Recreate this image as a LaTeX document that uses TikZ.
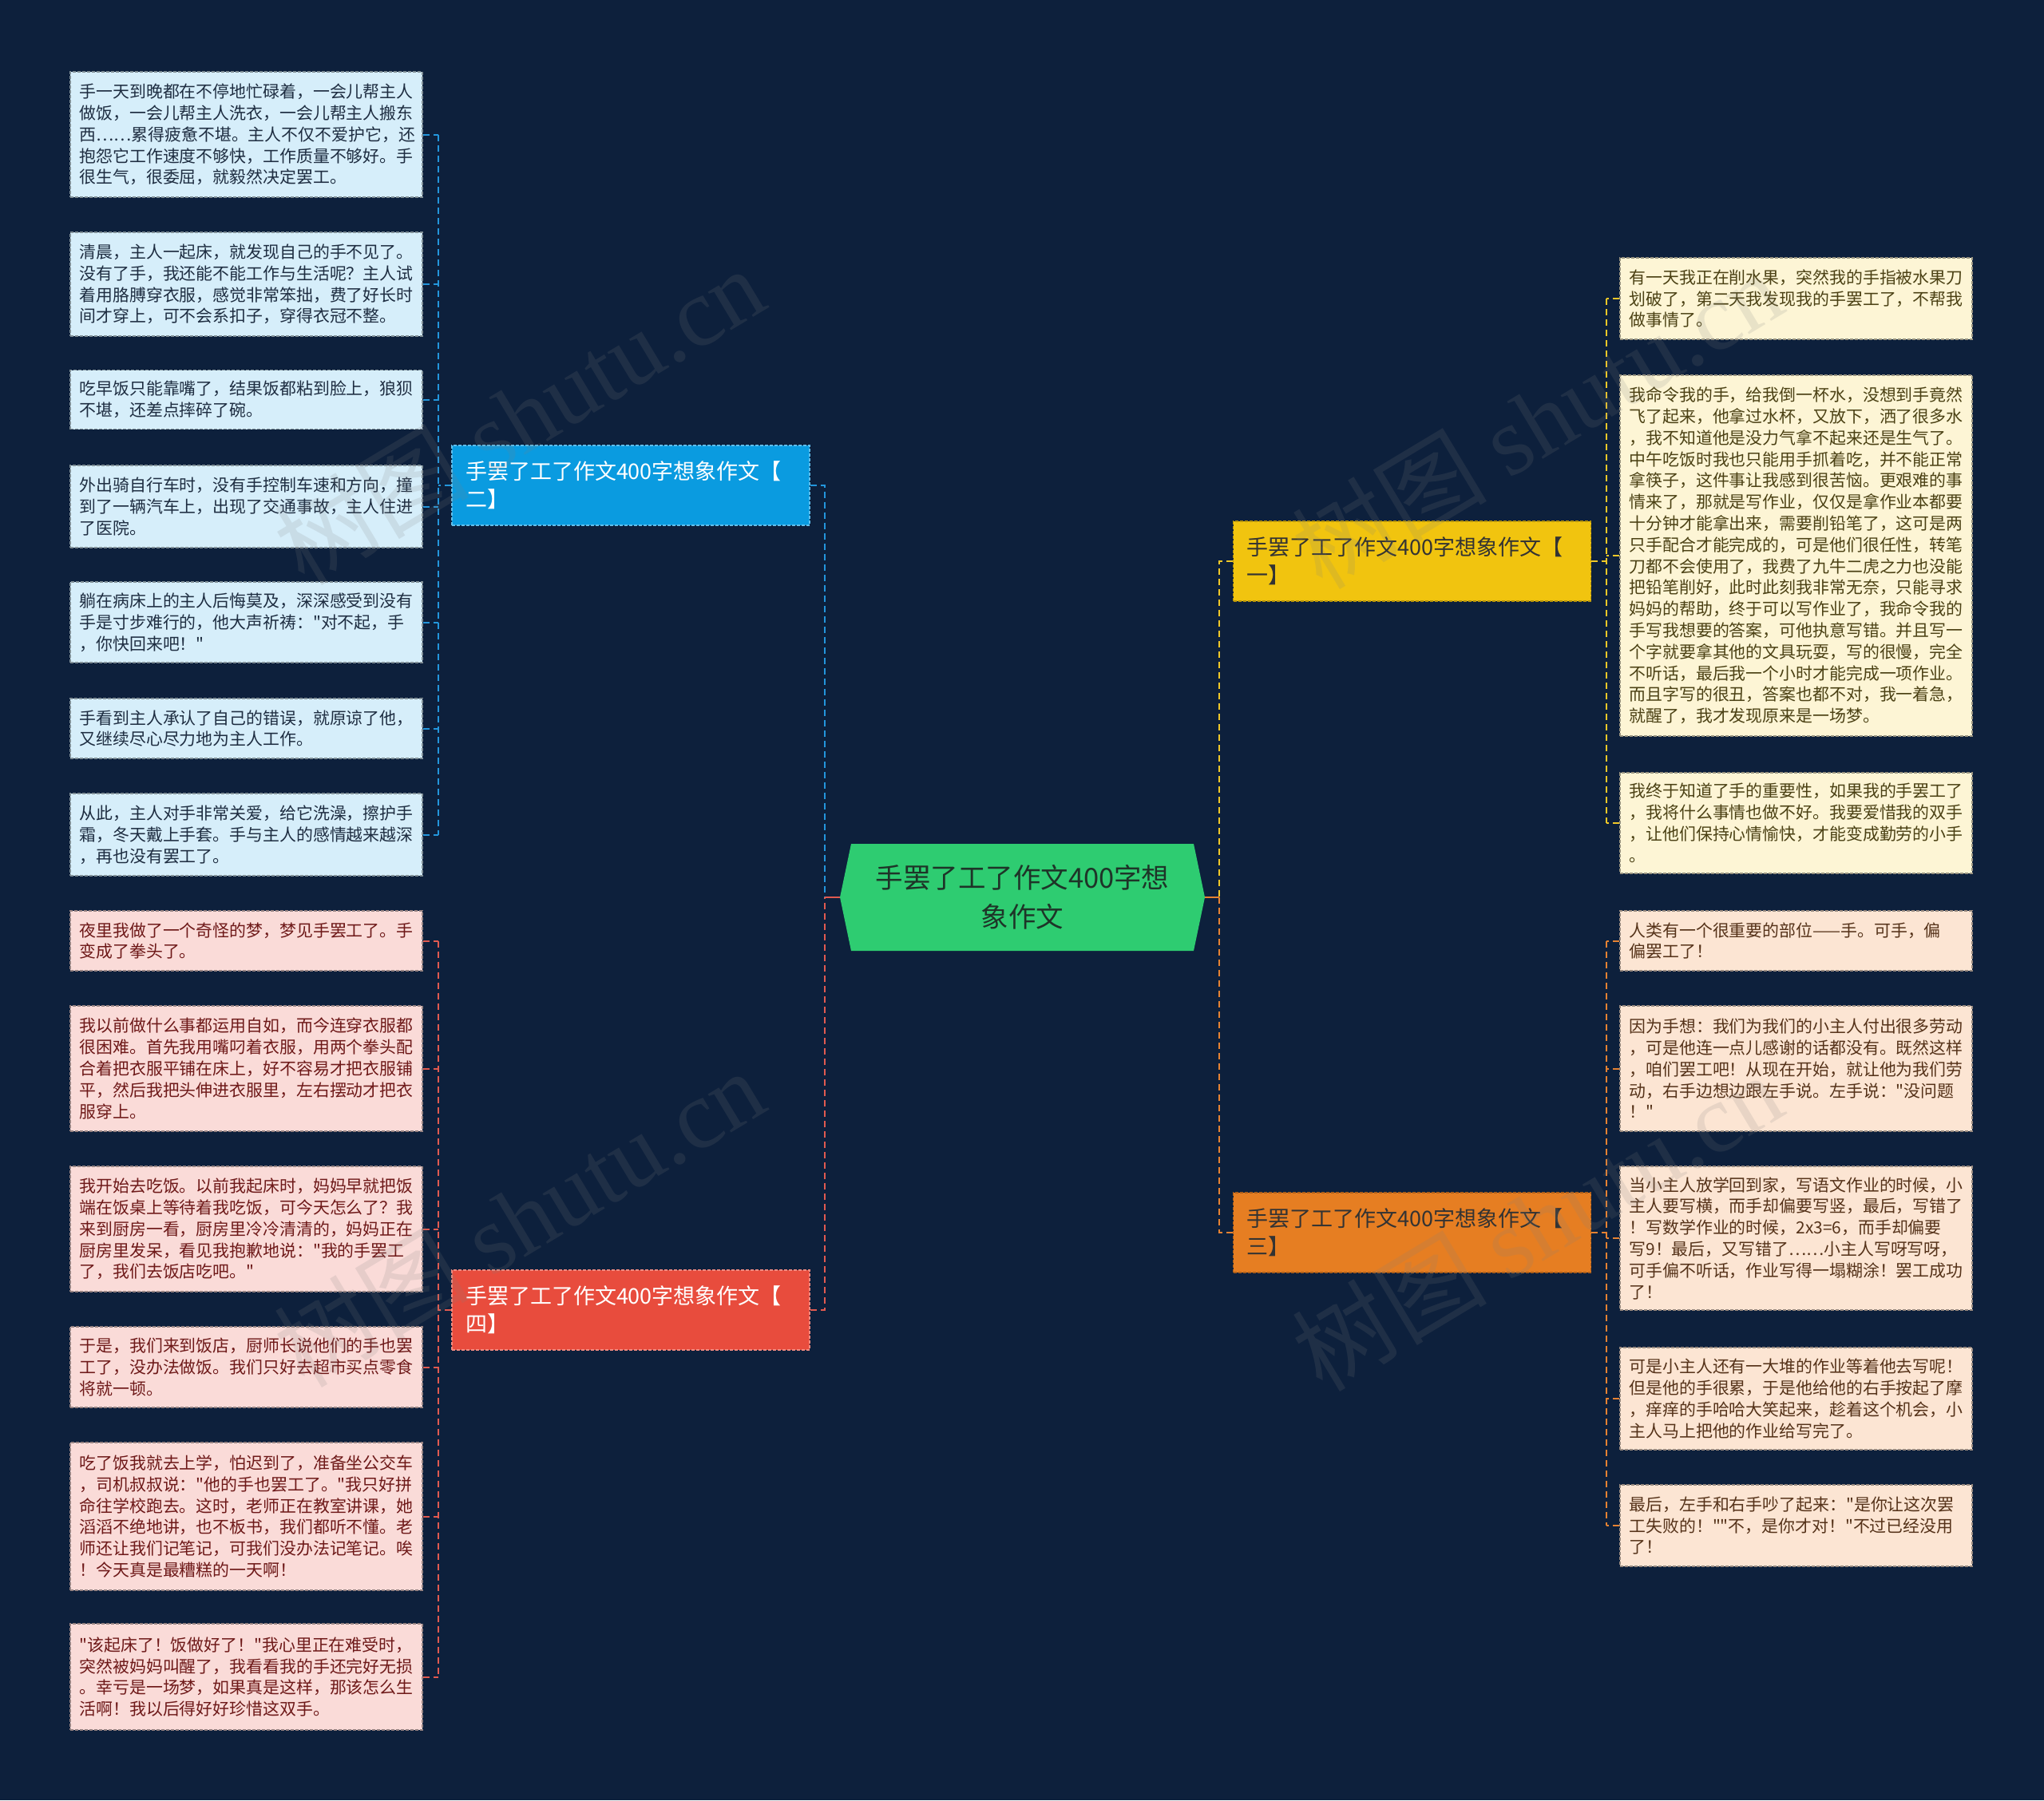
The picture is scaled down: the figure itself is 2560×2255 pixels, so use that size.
\documentclass[tikz,border=0pt]{standalone}
\usepackage{fontspec}
\setmainfont{Noto Sans CJK SC}[Ligatures=TeXOff]
\newfontfamily\wmlatin{Liberation Serif}
\definecolor{bg}{RGB}{13,32,60}
\definecolor{cgreen}{RGB}{46,204,113}
\definecolor{ctext}{RGB}{30,52,40}
\definecolor{bblue}{RGB}{10,155,224}
\definecolor{bred}{RGB}{232,76,61}
\definecolor{byellow}{RGB}{241,196,15}
\definecolor{borange}{RGB}{230,126,34}
\definecolor{lblue}{RGB}{214,238,250}
\definecolor{lpink}{RGB}{250,219,216}
\definecolor{lyellow}{RGB}{253,245,213}
\definecolor{lpeach}{RGB}{252,229,211}
\definecolor{tblue}{RGB}{30,45,65}
\definecolor{tpink}{RGB}{110,25,25}
\definecolor{tyellow}{RGB}{75,65,20}
\definecolor{tpeach}{RGB}{85,50,25}
\definecolor{kblue}{RGB}{35,150,220}
\definecolor{kred}{RGB}{225,90,80}
\definecolor{kyellow}{RGB}{240,200,40}
\definecolor{korange}{RGB}{230,130,50}
\tikzset{
  leaf/.style={rectangle, text width=418pt, inner xsep=11.5pt, inner ysep=0pt, align=left,
    font=\fontsize{20.9}{26.8}\selectfont, line width=1.2pt, dash pattern=on 4pt off 2pt},
  bleaf/.style={leaf, fill=lblue, draw=lblue!60!black, text=tblue},
  pleaf/.style={leaf, fill=lpink, draw=lpink!60!black, text=tpink},
  yleaf/.style={leaf, fill=lyellow, draw=lyellow!60!black, text=tyellow},
  oleaf/.style={leaf, fill=lpeach, draw=lpeach!60!black, text=tpeach},
  branch/.style={rectangle, text width=414pt, inner xsep=17pt, inner ysep=0pt, minimum height=100pt,
    align=left, font=\fontsize{27}{35}\selectfont, line width=1.2pt, dash pattern=on 4pt off 2pt},
  conn/.style={line width=2pt, dash pattern=on 8pt off 5pt},
  stub/.style={line width=2.4pt},
  wm/.style={font=\fontsize{122}{122}\selectfont, text=gray, opacity=0.16, inner sep=0pt}
}
\begin{document}
\begin{tikzpicture}[x=1pt,y=-1pt]
\fill[bg] (0,0) rectangle (2560,2255);
\useasboundingbox (0,0) rectangle (2560,2255);

% center
\fill[cgreen] (1066,1057) -- (1495,1057) -- (1509,1124) -- (1495,1191) -- (1066,1191) -- (1052,1124) -- cycle;
\node[minimum width=457pt, minimum height=134pt, inner sep=0pt, align=center, text=ctext,
  font=\fontsize{34.5}{49}\selectfont] (c) at (1280.5,1124) {手罢了工了作文400字想\\象作文};

% branches
\node[branch, fill=bblue, draw=bblue!65!white, text=white] (b2) at (790,608) {手罢了工了作文400字想象作文【\\二】};
\node[branch, fill=bred, draw=bred!65!white, text=white] (b4) at (790,1641) {手罢了工了作文400字想象作文【\\四】};
\node[branch, fill=byellow, draw=byellow!75!black, text=black!80] (b1) at (1768.5,703) {手罢了工了作文400字想象作文【\\一】};
\node[branch, fill=borange, draw=borange!75!black, text=black!80] (b3) at (1768.5,1544) {手罢了工了作文400字想象作文【\\三】};

% left leaves (blue)
\node[bleaf, minimum height=157pt] (l1) at (308.5,168.5) {手一天到晚都在不停地忙碌着，一会儿帮主人\\做饭，一会儿帮主人洗衣，一会儿帮主人搬东\\西……累得疲惫不堪。主人不仅不爱护它，还\\抱怨它工作速度不够快，工作质量不够好。手\\很生气，很委屈，就毅然决定罢工。};
\node[bleaf, minimum height=130pt] (l2) at (308.5,356) {清晨，主人一起床，就发现自己的手不见了。\\没有了手，我还能不能工作与生活呢？主人试\\着用胳膊穿衣服，感觉非常笨拙，费了好长时\\间才穿上，可不会系扣子，穿得衣冠不整。};
\node[bleaf, minimum height=74pt] (l3) at (308.5,500.5) {吃早饭只能靠嘴了，结果饭都粘到脸上，狼狈\\不堪，还差点摔碎了碗。};
\node[bleaf, minimum height=103pt] (l4) at (308.5,634.5) {外出骑自行车时，没有手控制车速和方向，撞\\到了一辆汽车上，出现了交通事故，主人住进\\了医院。};
\node[bleaf, minimum height=101pt] (l5) at (308.5,779.5) {躺在病床上的主人后悔莫及，深深感受到没有\\手是寸步难行的，他大声祈祷："对不起，手\\，你快回来吧！"};
\node[bleaf, minimum height=75pt] (l6) at (308.5,912.5) {手看到主人承认了自己的错误，就原谅了他，\\又继续尽心尽力地为主人工作。};
\node[bleaf, minimum height=103pt] (l7) at (308.5,1045.5) {从此，主人对手非常关爱，给它洗澡，擦护手\\霜，冬天戴上手套。手与主人的感情越来越深\\，再也没有罢工了。};

% left leaves (pink)
\node[pleaf, minimum height=75pt] (l8) at (308.5,1178.5) {夜里我做了一个奇怪的梦，梦见手罢工了。手\\变成了拳头了。};
\node[pleaf, minimum height=157pt] (l9) at (308.5,1338.5) {我以前做什么事都运用自如，而今连穿衣服都\\很困难。首先我用嘴叼着衣服，用两个拳头配\\合着把衣服平铺在床上，好不容易才把衣服铺\\平，然后我把头伸进衣服里，左右摆动才把衣\\服穿上。};
\node[pleaf, minimum height=157pt] (l10) at (308.5,1539.5) {我开始去吃饭。以前我起床时，妈妈早就把饭\\端在饭桌上等待着我吃饭，可今天怎么了？我\\来到厨房一看，厨房里冷冷清清的，妈妈正在\\厨房里发呆，看见我抱歉地说："我的手罢工\\了，我们去饭店吃吧。"};
\node[pleaf, minimum height=101pt] (l11) at (308.5,1712.5) {于是，我们来到饭店，厨师长说他们的手也罢\\工了，没办法做饭。我们只好去超市买点零食\\将就一顿。};
\node[pleaf, minimum height=185pt] (l12) at (308.5,1899.5) {吃了饭我就去上学，怕迟到了，准备坐公交车\\，司机叔叔说："他的手也罢工了。"我只好拼\\命往学校跑去。这时，老师正在教室讲课，她\\滔滔不绝地讲，也不板书，我们都听不懂。老\\师还让我们记笔记，可我们没办法记笔记。唉\\！今天真是最糟糕的一天啊！};
\node[pleaf, minimum height=133pt] (l13) at (308.5,2100.5) {"该起床了！饭做好了！"我心里正在难受时，\\突然被妈妈叫醒了，我看看我的手还完好无损\\。幸亏是一场梦，如果真是这样，那该怎么生\\活啊！我以后得好好珍惜这双手。};

% right leaves (yellow)
\node[yleaf, minimum height=102pt] (r1) at (2249.5,374) {有一天我正在削水果，突然我的手指被水果刀\\划破了，第二天我发现我的手罢工了，不帮我\\做事情了。};
\node[yleaf, minimum height=452pt] (r2) at (2249.5,696) {我命令我的手，给我倒一杯水，没想到手竟然\\飞了起来，他拿过水杯，又放下，洒了很多水\\，我不知道他是没力气拿不起来还是生气了。\\中午吃饭时我也只能用手抓着吃，并不能正常\\拿筷子，这件事让我感到很苦恼。更艰难的事\\情来了，那就是写作业，仅仅是拿作业本都要\\十分钟才能拿出来，需要削铅笔了，这可是两\\只手配合才能完成的，可是他们很任性，转笔\\刀都不会使用了，我费了九牛二虎之力也没能\\把铅笔削好，此时此刻我非常无奈，只能寻求\\妈妈的帮助，终于可以写作业了，我命令我的\\手写我想要的答案，可他执意写错。并且写一\\个字就要拿其他的文具玩耍，写的很慢，完全\\不听话，最后我一个小时才能完成一项作业。\\而且字写的很丑，答案也都不对，我一着急，\\就醒了，我才发现原来是一场梦。};
\node[yleaf, minimum height=126pt] (r3) at (2249.5,1031) {我终于知道了手的重要性，如果我的手罢工了\\，我将什么事情也做不好。我要爱惜我的双手\\，让他们保持心情愉快，才能变成勤劳的小手\\。};

% right leaves (peach)
\node[oleaf, minimum height=75pt] (r4) at (2249.5,1178.5) {人类有一个很重要的部位——手。可手，偏\\偏罢工了！};
\node[oleaf, minimum height=157pt] (r5) at (2249.5,1338.5) {因为手想：我们为我们的小主人付出很多劳动\\，可是他连一点儿感谢的话都没有。既然这样\\，咱们罢工吧！从现在开始，就让他为我们劳\\动，右手边想边跟左手说。左手说："没问题\\！"};
\node[oleaf, minimum height=180pt] (r6) at (2249.5,1551) {当小主人放学回到家，写语文作业的时候，小\\主人要写横，而手却偏要写竖，最后，写错了\\！写数学作业的时候，2x3=6，而手却偏要\\写9！最后，又写错了……小主人写呀写呀，\\可手偏不听话，作业写得一塌糊涂！罢工成功\\了！};
\node[oleaf, minimum height=128pt] (r7) at (2249.5,1752) {可是小主人还有一大堆的作业等着他去写呢！\\但是他的手很累，于是他给他的右手按起了摩\\，痒痒的手哈哈大笑起来，趁着这个机会，小\\主人马上把他的作业给写完了。};
\node[oleaf, minimum height=102pt] (r8) at (2249.5,1911) {最后，左手和右手吵了起来："是你让这次罢\\工失败的！""不，是你才对！"不过已经没用\\了！};

% center connectors
\coordinate (jl) at (1033,1124);
\coordinate (jr) at (1527,1124);
\draw[conn, kblue] (b2.east) -| (jl);
\draw[conn, kred] (b4.east) -| (jl);
\draw[conn, kyellow] (b1.west) -| (jr);
\draw[conn, korange] (b3.west) -| (jr);
\draw[stub, kred] (c.west) -- (jl);
\draw[stub, korange] (c.east) -- (jr);

% left upper leaves
\coordinate (v2) at (549,608);
\draw[conn, kblue] (l1.east -| v2) -- (l7.east -| v2);
\draw[conn, kblue] (b2.west) -- (v2);
\foreach \n in {l1,l2,l3,l4,l5,l6,l7} \draw[conn, kblue] (\n.east) -- (\n.east -| v2);

% left lower leaves
\coordinate (v4) at (549,1641);
\draw[conn, kred] (l8.east -| v4) -- (l13.east -| v4);
\draw[conn, kred] (b4.west) -- (v4);
\foreach \n in {l8,l9,l10,l11,l12,l13} \draw[conn, kred] (\n.east) -- (\n.east -| v4);

% right upper leaves
\coordinate (v1) at (2012,703);
\draw[conn, kyellow] (r1.west -| v1) -- (r3.west -| v1);
\draw[conn, kyellow] (b1.east) -- (v1);
\foreach \n in {r1,r2,r3} \draw[conn, kyellow] (\n.west) -- (\n.west -| v1);

% right lower leaves
\coordinate (v3) at (2012,1544);
\draw[conn, korange] (r4.west -| v3) -- (r8.west -| v3);
\draw[conn, korange] (b3.east) -- (v3);
\foreach \n in {r4,r5,r6,r7,r8} \draw[conn, korange] (\n.west) -- (\n.west -| v3);

% watermarks
\node[wm, rotate=31] (w1) at (650,520) {树图 {\wmlatin shutu.cn}};
\node[wm, rotate=31] (w2) at (650,1525) {树图 {\wmlatin shutu.cn}};
\node[wm, rotate=31] (w3) at (1925,525) {树图 {\wmlatin shutu.cn}};
\node[wm, rotate=31] (w4) at (1925,1530) {树图 {\wmlatin shutu.cn}};
\end{tikzpicture}
\end{document}
